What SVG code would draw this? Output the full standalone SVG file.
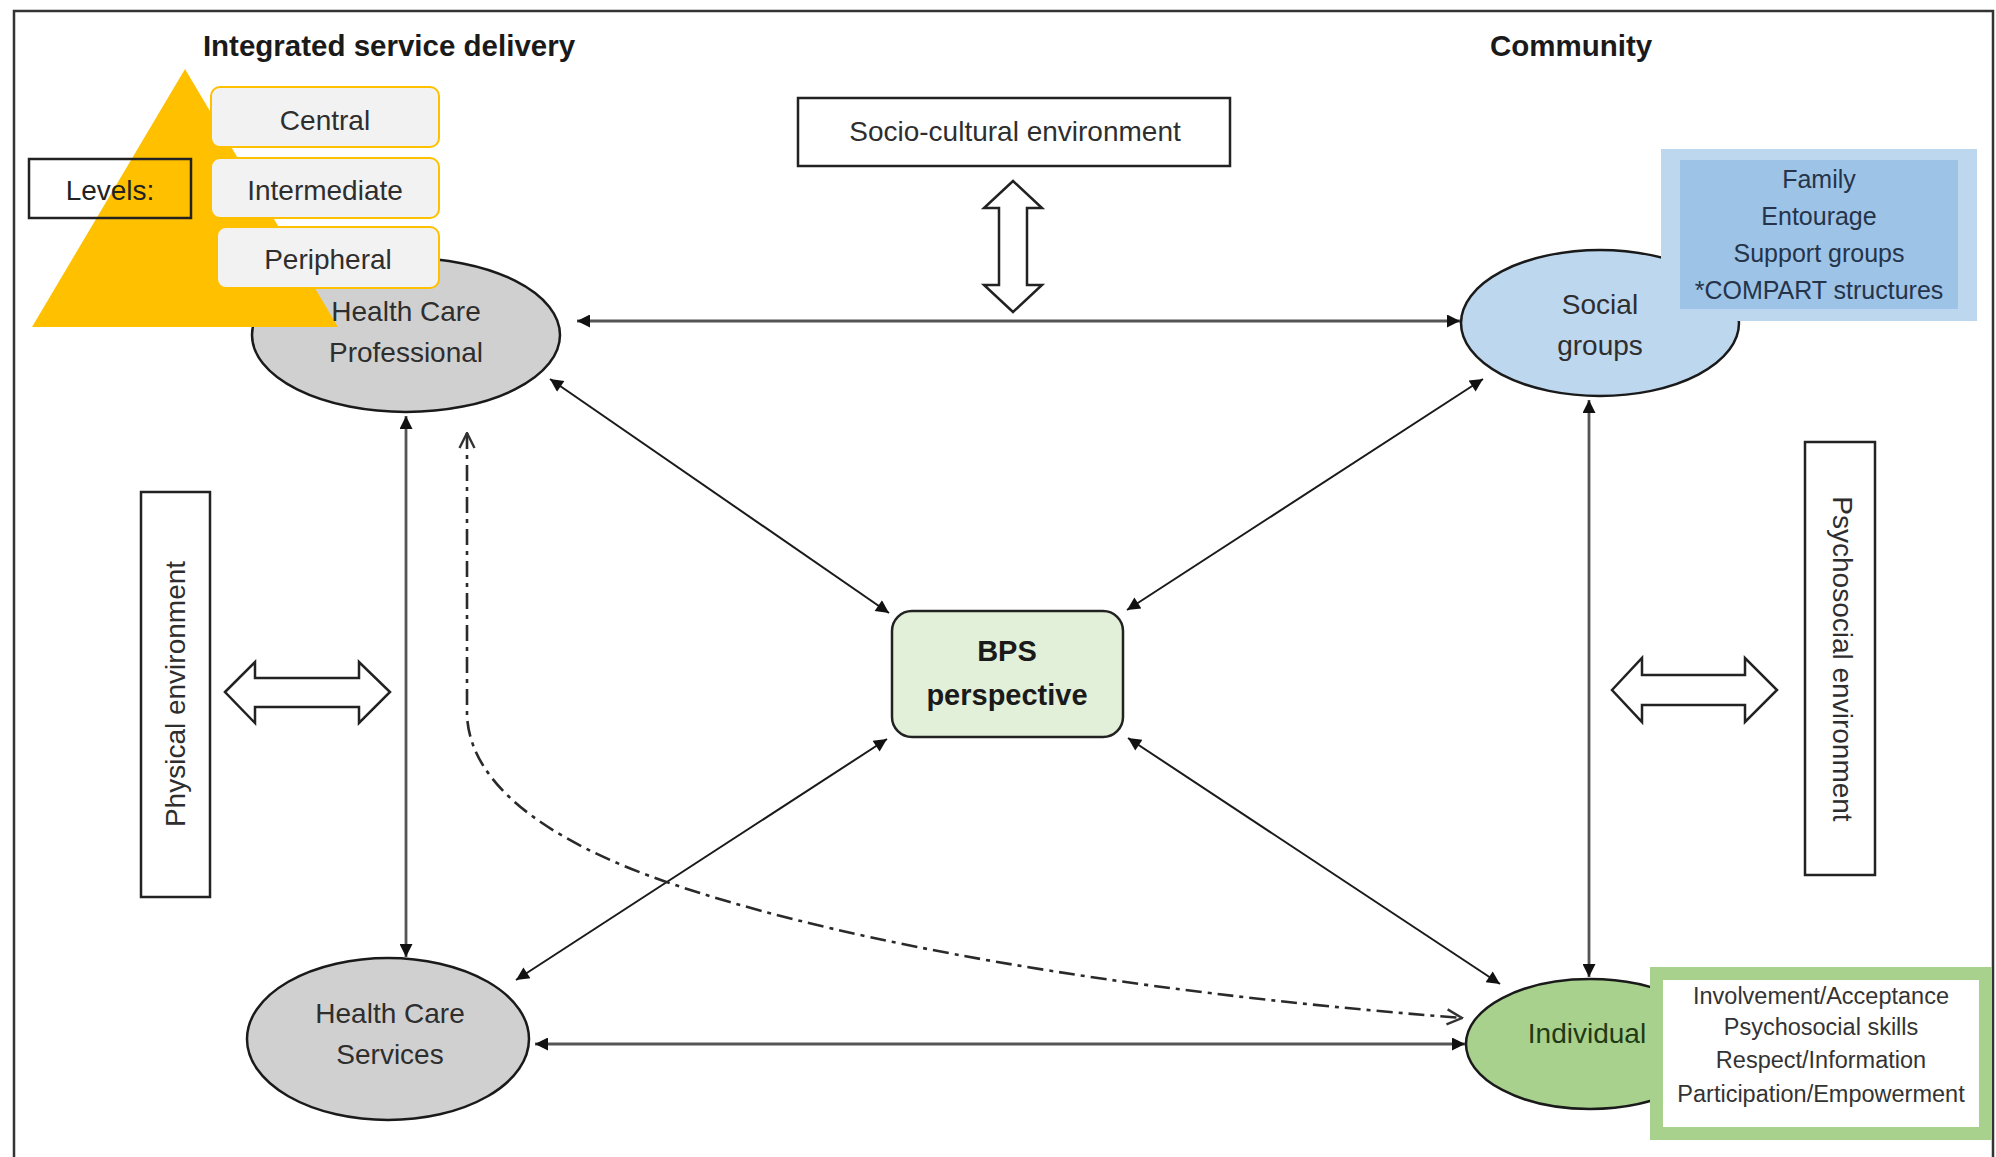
<svg xmlns="http://www.w3.org/2000/svg" width="1996" height="1157" viewBox="0 0 1996 1157">
<defs>
<style>
text{font-family:"Liberation Sans",Arial,sans-serif;fill:#2e2e2e;text-anchor:middle;dominant-baseline:central}
.t28{font-size:28px}
.b{font-weight:bold;fill:#1a1a1a}
.ell{stroke:#1a1a1a;stroke-width:2.5}
.box{fill:#fff;stroke:#222;stroke-width:2.5}
.lvl{fill:#f2f2f2;stroke:#ffc000;stroke-width:2}
.blk{fill:#fff;stroke:#222;stroke-width:2.5;stroke-linejoin:miter}
.cg{stroke:#555;stroke-width:2.8;fill:none}
.cd{stroke:#1a1a1a;stroke-width:2;fill:none}
.dd{stroke:#2a2a2a;stroke-width:2.6;fill:none;stroke-dasharray:16 6 4 6}
</style>
<marker id="ah" viewBox="0 0 10 10" refX="10" refY="5" markerUnits="userSpaceOnUse" markerWidth="16" markerHeight="13" orient="auto-start-reverse">
<path d="M0,0 L10,5 L0,10 z" fill="#111"/>
</marker>
<marker id="oa" viewBox="0 0 12 12" refX="11" refY="6" markerUnits="userSpaceOnUse" markerWidth="18" markerHeight="18" orient="auto-start-reverse">
<path d="M1,1 L11,6 L1,11" fill="none" stroke="#333" stroke-width="1.6"/>
</marker>
</defs>
<rect x="0" y="0" width="1996" height="1157" fill="#fff"/>
<rect x="14" y="11" width="1979" height="1170" fill="none" stroke="#333" stroke-width="2.5"/>

<text class="b" x="389" y="45" style="font-size:29.5px">Integrated service delivery</text>
<text class="b" x="1571" y="45" style="font-size:29.5px">Community</text>

<g id="connectors">
<line class="cg" x1="577" y1="321" x2="1460" y2="321" marker-start="url(#ah)" marker-end="url(#ah)"/>
<line class="cg" x1="535" y1="1044" x2="1465" y2="1044" marker-start="url(#ah)" marker-end="url(#ah)"/>
<line class="cg" x1="406" y1="416" x2="406" y2="957" marker-start="url(#ah)" marker-end="url(#ah)"/>
<line class="cg" x1="1589" y1="400" x2="1589" y2="977" marker-start="url(#ah)" marker-end="url(#ah)"/>
<line class="cd" x1="550" y1="379" x2="889" y2="613" marker-start="url(#ah)" marker-end="url(#ah)"/>
<line class="cd" x1="1483" y1="379" x2="1127" y2="610" marker-start="url(#ah)" marker-end="url(#ah)"/>
<line class="cd" x1="516" y1="980" x2="887" y2="739" marker-start="url(#ah)" marker-end="url(#ah)"/>
<line class="cd" x1="1500" y1="984" x2="1128" y2="738" marker-start="url(#ah)" marker-end="url(#ah)"/>
<path class="dd" d="M467,433 V715 C470,790 560,850 700,893 C850,940 1100,990 1462,1018" marker-start="url(#oa)" marker-end="url(#oa)"/>
</g>

<g id="hcp">
<ellipse class="ell" cx="406" cy="335" rx="154" ry="77" fill="#d0d0d0"/>
</g>
<g id="levels">
<polygon points="185,69 32,327 338,327" fill="#ffc000"/>
<rect x="29" y="159" width="162" height="59" fill="none" stroke="#222" stroke-width="2.5"/>
<text class="t28" x="110" y="190" style="fill:#222">Levels:</text>
</g>
<g id="hcp-label">
<text class="t28" x="406" y="311">Health Care</text>
<text class="t28" x="406" y="352">Professional</text>
</g>
<g id="level-central">
<rect class="lvl" x="211" y="87" width="228" height="60" rx="9"/>
<text class="t28" x="325" y="120">Central</text>
</g>
<g id="level-intermediate">
<rect class="lvl" x="211" y="158" width="228" height="60" rx="9"/>
<text class="t28" x="325" y="190">Intermediate</text>
</g>
<g id="level-peripheral">
<rect class="lvl" x="217" y="227" width="222" height="61" rx="9"/>
<text class="t28" x="328" y="259">Peripheral</text>
</g>

<g id="sociocultural">
<rect class="box" x="798" y="98" width="432" height="68"/>
<text class="t28" x="1015" y="131">Socio-cultural environment</text>
<polygon class="blk" points="1013,181 1042,208 1027,208 1027,285 1042,285 1013,312 984,285 999,285 999,208 984,208"/>
</g>

<g id="physical">
<rect class="box" x="141" y="492" width="69" height="405"/>
<text class="t28" transform="translate(175,694) rotate(-90)">Physical environment</text>
<polygon class="blk" points="225,692 255,662 255,678 359,678 359,662 390,692 359,723 359,707 255,707 255,723"/>
</g>

<g id="psychosocial">
<rect class="box" x="1805" y="442" width="70" height="433"/>
<text class="t28" transform="translate(1842,659) rotate(90)">Psychosocial environment</text>
<polygon class="blk" points="1612,690 1642,658 1642,675 1745,675 1745,658 1777,690 1745,722 1745,705 1642,705 1642,722"/>
</g>

<g id="social">
<ellipse class="ell" cx="1600" cy="323" rx="139" ry="73" fill="#bdd7ee"/>
<text class="t28" x="1600" y="304">Social</text>
<text class="t28" x="1600" y="345">groups</text>
</g>
<g id="social-detail">
<rect x="1661" y="149" width="316" height="172" fill="#bdd7ee"/>
<rect x="1680" y="160" width="278" height="149" fill="#9dc3e6"/>
<text x="1819" y="179" style="font-size:25px;fill:#25344a">Family</text>
<text x="1819" y="216" style="font-size:25px;fill:#25344a">Entourage</text>
<text x="1819" y="253" style="font-size:25px;fill:#25344a">Support groups</text>
<text x="1819" y="290" style="font-size:25px;fill:#25344a">*COMPART structures</text>
</g>

<g id="bps">
<rect x="892" y="611" width="231" height="126" rx="20" fill="#e2efd9" stroke="#222" stroke-width="2.5"/>
<text class="b" x="1007" y="651" style="font-size:29px">BPS</text>
<text class="b" x="1007" y="695" style="font-size:29px">perspective</text>
</g>

<g id="hcs">
<ellipse class="ell" cx="388" cy="1039" rx="141" ry="81" fill="#d0d0d0"/>
<text class="t28" x="390" y="1013">Health Care</text>
<text class="t28" x="390" y="1054">Services</text>
</g>

<g id="individual">
<ellipse class="ell" cx="1590" cy="1044" rx="124" ry="65" fill="#a9d18e"/>
<text class="t28" x="1587" y="1033" style="fill:#1f3a14">Individual</text>
</g>
<g id="individual-detail">
<rect x="1656.5" y="973.5" width="329" height="160" fill="#fff" stroke="#a9d18e" stroke-width="13"/>
<text x="1821" y="996" style="font-size:23.5px;fill:#333">Involvement/Acceptance</text>
<text x="1821" y="1027" style="font-size:23.5px;fill:#333">Psychosocial skills</text>
<text x="1821" y="1060" style="font-size:23.5px;fill:#333">Respect/Information</text>
<text x="1821" y="1094" style="font-size:23.5px;fill:#333">Participation/Empowerment</text>
</g>
</svg>
